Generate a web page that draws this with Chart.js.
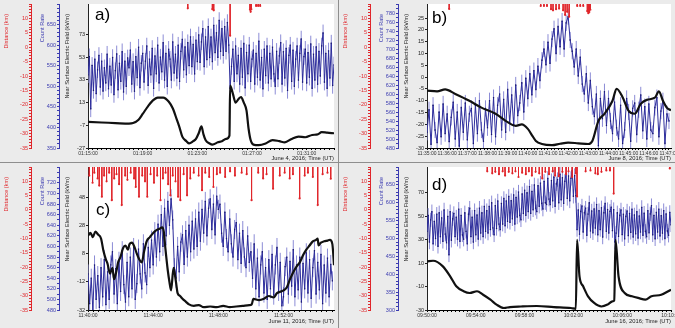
<!DOCTYPE html>
<html>
<head>
<meta charset="utf-8">
<script src="https://cdn.jsdelivr.net/npm/chart.js@4.4.0/dist/chart.umd.min.js"></script>
<style>
  html, body { margin: 0; padding: 0; background: #8e8e8e; }
  #wrap { position: relative; width: 675px; height: 328px; background: #8e8e8e; overflow: hidden; }
  .panel { position: absolute; background: #ebebeb; }
  .panel canvas { position: absolute; left: 0; top: 0; }
  .tag { position: absolute; font-family: "Liberation Sans", Arial, sans-serif; font-size: 17px; line-height: 1; color: #000; }
</style>
</head>
<body>
<div id="wrap">
  <div class="panel" style="left:0;top:0;width:338px;height:162px">
    <canvas id="ca" width="338" height="162"></canvas><div class="tag" style="left:95px;top:6px">a)</div>
  </div>
  <div class="panel" style="left:339px;top:0;width:336px;height:162px">
    <canvas id="cb" width="336" height="162"></canvas><div class="tag" style="left:93px;top:9px">b)</div>
  </div>
  <div class="panel" style="left:0;top:163px;width:338px;height:165px">
    <canvas id="cc" width="338" height="165"></canvas><div class="tag" style="left:96px;top:38px">c)</div>
  </div>
  <div class="panel" style="left:339px;top:163px;width:336px;height:165px">
    <canvas id="cd" width="336" height="165"></canvas><div class="tag" style="left:93px;top:13px">d)</div>
  </div>
</div>
<script>
const FONT = '"Liberation Sans", Arial, sans-serif';
const RED = '#e0262b';
const BLUE = '#2e2e9c';
const BLUE_ERR = '#8c8cd6';
const NAVY = '#1b1b6e';

// shared distance axis labels (km)
const distLabels = [10, 5, 0, -5, -10, -15, -20, -25, -30, -35];

// ---- a) June 4, 2016 ---- count rate every 6 s (one row = 1 min)
const timeLabelsA = ['01:15:00', '01:19:00', '01:23:00', '01:27:00', '01:31:00'];
const countLabelsA = [350, 400, 450, 500, 550, 600, 650];
const fieldLabelsA = [-27, -7, 13, 33, 53, 73];
const countA = [
  528, 572, 445, 551, 490, 566, 482, 540, 575, 498,
  561, 488, 545, 508, 578, 494, 549, 503, 570, 480,
  538, 579, 491, 556, 512, 584, 486, 561, 500, 569,
  545, 588, 505, 560, 488, 572, 521, 595, 497, 556,
  580, 510, 561, 598, 502, 566, 528, 592, 495, 574,
  530, 600, 508, 571, 535, 606, 515, 580, 500, 590,
  566, 515, 608, 532, 578, 520, 600, 512, 585, 614,
  540, 596, 528, 606, 550, 620, 548, 602, 530, 612,
  560, 625, 558, 608, 640, 548, 620, 565, 645, 570,
  620, 560, 648, 582, 630, 570, 660, 585, 640, 575,
  645, 585, 655, 600, 495, 548, 590, 512, 598, 530,
  575, 505, 592, 522, 604, 496, 582, 530, 600, 512,
  566, 588, 505, 580, 522, 610, 515, 570, 494, 590,
  526, 598, 508, 580, 518, 595, 530, 500, 585, 518,
  574, 606, 505, 584, 520, 592, 490, 575, 600, 512,
  588, 500, 566, 598, 515, 580, 615, 510, 572, 590,
  508, 582, 522, 603, 495, 578, 515, 596, 505, 585,
  525, 598, 630, 510, 580, 495, 586, 520, 605, 502,
  552
];
const fieldTimesA = [0, 1, 2, 3, 3.3, 3.7, 4.0, 4.4, 4.75, 5.1, 5.5, 5.9, 6.2, 6.5, 6.7, 6.9, 7.2, 7.4, 7.7,
  7.9, 8.1, 8.3, 8.45, 8.6, 8.9, 9.1, 9.5, 9.8, 10.1, 10.35, 10.4, 10.6, 10.8, 11.0, 11.2, 11.4, 11.6,
  11.75, 11.9, 12.1, 12.5, 13, 13.5, 14, 14.4, 14.9, 15.4, 15.9, 16.4, 16.8, 17.1, 17.5, 18];
const fieldA = [-4, -4.5, -5, -5.5, -5, -2, 3, 10, 15, 17.5, 17.5, 14, 8, -2, -9, -17, -21, -23, -21,
  -19, -14, -8, -15, -20, -23, -24, -22, -21, -19, -16, 28, 21, 13, 16, 18, 13, 6,
  -10, -20, -24, -24.5, -23, -20, -21, -22, -19, -17, -17.5, -15.5, -15, -13, -13.5, -14];
const strikeTimesA = [7.3, 9.1, 9.2, 10.4, 11.85, 11.9, 11.95, 12.3, 12.45, 12.6];
const strikeDistA = [13.5, 13.2, 12.8, 4, 13, 12.3, 13.2, 14.3, 14.3, 14.3];

// ---- b) June 8, 2016 ----
const timeLabelsB = ['11:35:00', '11:36:00', '11:37:00', '11:38:00', '11:39:00', '11:40:00', '11:41:00',
  '11:42:00', '11:43:00', '11:44:00', '11:45:00', '11:46:00', '11:47:00'];
const countLabelsB = [480, 500, 520, 540, 560, 580, 600, 620, 640, 660, 680, 700, 720, 740, 760, 780];
const fieldLabelsB = [-30, -25, -20, -15, -10, -5, 0, 5, 10, 15, 20, 25];
const countB = [
  515, 565, 488, 575, 520, 492, 560, 505, 578, 512,
  556, 494, 548, 582, 500, 560, 484, 570, 515, 580,
  498, 556, 568, 490, 575, 512, 585, 520, 495, 568,
  525, 585, 510, 592, 505, 575, 600, 520, 588, 515,
  610, 535, 598, 530, 620, 552, 580, 625, 560, 635,
  590, 645, 598, 652, 610, 662, 630, 675, 700, 665,
  715, 668, 722, 745, 690, 750, 705, 762, 700, 758,
  772, 720, 695, 660, 700, 640, 682, 622, 600, 645,
  580, 630, 572, 550, 600, 485, 590, 545, 605, 530,
  590, 540, 512, 582, 525, 500, 575, 490, 520, 590,
  560, 495, 568, 580, 510, 565, 598, 518, 572, 500,
  578, 520, 512, 570, 592, 505, 562, 585, 490, 556,
  540
];
const fieldTimesB = [0, 0.5, 0.9, 1.4, 2.1, 2.7, 3.4, 3.9, 4.4, 4.7, 5.0, 5.2, 5.4, 5.7, 6.2, 6.6, 7.0, 7.5,
  8.0, 8.2, 8.5, 8.8, 9.2, 9.4, 9.7, 10.0, 10.3, 10.6, 10.9, 11.3, 11.5, 11.7, 11.9, 12.1];
const fieldB = [-5.7, -6, -5.2, -7.1, -10, -12.9, -15.5, -18.5, -20.6, -20, -21.9, -24.5, -27, -28.3, -28.8,
  -28.2, -27.7, -28, -28.3, -27, -18.5, -15.5, -10, -4.9, -8.5, -14.3, -15.5, -11.3, -9.6, -8.7, -6, -10, -13, -14];
const strikeTimesB = [1.1, 5.64, 5.8, 5.95, 6.15, 6.25, 6.4, 6.55, 6.75, 6.85, 6.95, 7.05, 7.45, 7.6, 7.75, 7.95, 8.0, 8.05, 8.1];
const strikeDistB = [13.3, 14.3, 14.3, 14.3, 13.2, 12.8, 13.2, 13.4, 12.8, 11.2, 12.3, 10.6, 14.3, 14.3, 14.3, 12.5, 11.8, 12.2, 13];

// ---- c) June 11, 2016 ----
const timeLabelsC = ['11:40:00', '11:44:00', '11:48:00', '11:52:00'];
const countLabelsC = [480, 500, 520, 540, 560, 580, 600, 620, 640, 660, 680, 700, 720];
const fieldLabelsC = [-32, -12, 8, 28, 48];
const countC = [
  548, 492, 540, 478, 565, 500, 545, 485, 560, 505,
  575, 490, 552, 500, 565, 590, 510, 558, 492, 572,
  515, 592, 528, 495, 570, 505, 580, 520, 598, 500,
  530, 595, 548, 520, 605, 550, 528, 598, 560, 612,
  565, 628, 580, 642, 590, 660, 600, 672, 620, 685,
  640, 690, 650, 560, 540, 600, 552, 608, 622, 566,
  630, 580, 640, 590, 648, 595, 652, 600, 665, 610,
  670, 625, 685, 620, 672, 690, 632, 680, 622, 695,
  670, 680, 625, 600, 665, 615, 590, 652, 605, 580,
  632, 645, 575, 625, 568, 630, 580, 560, 620, 570,
  590, 540, 605, 520, 578, 505, 565, 590, 512, 560,
  500, 575, 520, 585, 508, 565, 598, 515, 570, 488,
  505, 562, 580, 510, 572, 525, 594, 505, 565, 518,
  580, 495, 568, 520, 588, 512, 575, 502, 560, 592,
  510, 570, 518, 585, 492, 565, 512, 578, 505, 566,
  535
];
const fieldTimesC = [0, 0.15, 0.3, 0.45, 0.6, 0.8, 0.95, 1.1, 1.2, 1.35, 1.5, 1.6, 1.75, 1.85, 2.0, 2.15, 2.3,
  2.45, 2.55, 2.7, 2.85, 3.0, 3.15, 3.3, 3.45, 3.6, 3.8, 4.0, 4.2, 4.4, 4.55, 4.65, 4.75, 4.9, 5.0, 5.1,
  5.25, 5.4, 5.5, 5.65, 5.8, 6.0, 6.2, 6.5, 6.8, 7.1, 7.5, 7.9, 8.3, 8.7, 9.1, 9.5, 9.9, 10.05, 10.15,
  10.5, 10.8, 11.1, 11.4, 11.6, 11.8, 12.0, 12.2, 12.4, 12.6, 12.8, 13.0, 13.2, 13.4, 13.6, 13.8, 14.0,
  14.1, 14.15, 14.3, 14.5, 14.7, 14.85, 15.0, 15.1];
const fieldC = [21, 23, 20, 24, 22, 19, 10, 4, 1, -6, -2, -10, -4, 2, 6, 12, 14,
  11, 15, 16, 13, 8, 4, 2, 10, 17, 20, 23, 25, 26, 27, 24, 12, -4, -12, -18,
  -2, -12, -20, -22, -24, -26, -28, -29, -28.5, -30, -29.5, -30, -29, -30, -29.5, -29, -28.5, -28, -24,
  -25, -24, -22, -23, -20, -19, -18, -16, -10, -5, -1, 2, 7, 11, 14, 17, 18,
  19, 14, 16, 17, 17.5, 18, 15, 0];
const strikeTimesC = [0.08, 0.28, 0.39, 0.59, 0.69, 0.85, 0.99, 1.14, 1.3, 1.46, 1.61, 1.75, 1.91, 2.07,
  2.28, 2.42, 2.62, 2.83, 2.93, 3.13, 3.33, 3.5, 3.64, 3.84, 4.05, 4.25, 4.45, 4.6, 4.76, 4.92, 5.06,
  5.2, 5.37, 5.53, 5.67, 5.87, 6.08, 6.28, 6.49, 6.79, 7.0, 7.2, 7.44, 7.7, 7.91, 8.11, 8.42, 8.72,
  9.02, 9.43, 9.74, 10.04, 10.45, 10.75, 10.96, 11.36, 11.77, 12.07, 12.38, 12.58, 12.99, 13.3, 13.5,
  13.8, 14.1, 14.4, 14.7, 14.9];
const strikeDistC = [12, 9.5, 13, 11, 8.5, 4.6, 12, 10, 13, 3.4, 11, 12.5, 9, 1.7,
  12, 10.5, 13, 11, 8, 4.6, 12, 10, 4.6, 12.5, 9.5, 12, 3.4, 11, 13, 9, 5.1,
  12, 10, 4.6, 3.4, 12.5, 5.1, 11, 13, 12, 6.9, 13, 11.5, 8, 12.5, 13, 11.5, 13.5,
  12, 13, 12.5, 3.4, 13, 11, 12.5, 7.4, 12, 13, 11, 12.5, 4, 12, 13,
  11.5, 1.7, 12.5, 13, 10.9];

// ---- d) June 16, 2016 ----
const timeLabelsD = ['09:50:00', '09:54:00', '09:58:00', '10:02:00', '10:06:00', '10:10:00'];
const countLabelsD = [300, 350, 400, 450, 500, 550, 600, 650];
const fieldLabelsD = [-30, -10, 10, 30, 50, 70];
const countD = [
  520, 565, 490, 552, 575, 485, 548, 500, 568, 478,
  572, 505, 558, 492, 580, 512, 488, 562, 454, 575,
  495, 555, 570, 505, 560, 498, 582, 492, 565, 510,
  498, 572, 520, 485, 568, 585, 505, 560, 490, 578,
  510, 566, 498, 585, 515, 572, 505, 590, 520, 578,
  515, 590, 525, 600, 530, 510, 592, 528, 605, 540,
  525, 598, 540, 612, 535, 605, 548, 618, 545, 606,
  555, 622, 540, 615, 560, 630, 565, 552, 625, 570,
  635, 565, 628, 575, 645, 570, 632, 580, 650, 585,
  575, 648, 590, 655, 598, 582, 660, 600, 595, 668,
  610, 595, 662, 605, 672, 590, 653, 665, 600, 680,
  608, 670, 598, 660, 682, 612, 675, 605, 668, 690,
  618, 676, 620, 525, 580, 512, 576, 591, 518, 572,
  585, 509, 568, 600, 521, 577, 516, 583, 529, 595,
  510, 578, 525, 586, 504, 572, 598, 520, 581, 515,
  576, 588, 522, 581, 490, 515, 572, 506, 565, 580,
  511, 568, 499, 562, 577, 508, 570, 517, 582, 504,
  566, 513, 575, 501, 563, 518, 587, 509, 571, 520,
  505, 578, 516, 569, 592, 510, 565, 499, 573, 518,
  582, 507, 564, 515, 578, 500, 569, 521, 509, 573,
  538
];
const fieldTimesD = [0, 0.5, 1.3, 1.9, 2.4, 3.0, 3.5, 4.1, 4.6, 5.2, 5.7, 6.3, 6.8, 7.7, 9.0, 10.4, 11.8,
  12.2, 12.3, 12.5, 12.8, 13.2, 13.7, 14.3, 14.8, 15.2, 15.35, 15.45, 15.7, 16.2, 16.8, 17.3, 17.9, 18.4, 19.2, 20];
const fieldD = [11.4, 12, 7.2, -1.3, -9.8, -14, -15.5, -14, -17, -21.2, -25.4, -28.3, -27.5, -27, -26.6, -27.5, -28.3,
  -29, 29.8, -1.3, -9.8, -18.3, -24, -27, -25.4, -22.6, -22, 29.8, -1.3, -15.5, -18.3, -19.7, -21.2, -18.3, -17, -12.7];
const strikeTimesD = [4.94, 5.35, 5.6, 5.9, 6.2, 6.4, 6.7, 7.0, 7.25, 7.5, 7.8, 8.1, 8.35, 8.6, 8.9, 9.2, 9.45,
  9.7, 10.0, 10.3, 10.5, 10.8, 11.1, 11.4, 11.6, 11.9, 12.2, 12.3, 13.0, 13.4, 13.8, 14.0, 14.3, 14.7, 15.0, 15.3, 19.9];
const strikeDistD = [13.5, 12.8, 13.3, 12.5, 13.5, 12, 13.3, 12.8, 13.5, 11.5, 13, 12.5, 13.5, 12, 13.3, 12.8, 11,
  13.3, 12.5, 13.5, 12, 11.8, 13.3, 12.5, 13.5, 11.5, 12.8, 4.7, 13.5, 13.8, 12.8, 12.5, 13.3, 13.8, 13.8, 5.7, 14.5];

const panels = [
  { id: 'ca', date: 'June 4, 2016; Time (UT)', tMax: 18, major: 4, minor: 1 / 3, times: timeLabelsA,
    cMin: 350, cMax: 700, cLabels: countLabelsA, eMin: -27, eMax: 100, eLabels: fieldLabelsA,
    counts: countA, step: 0.1, err: 20, fT: fieldTimesA, f: fieldA, sT: strikeTimesA, sD: strikeDistA,
    top: 4, right: 2, xh: 14, xpad: 0 },
  { id: 'cb', date: 'June 8, 2016; Time (UT)', tMax: 12.1, major: 1, minor: 1 / 6, times: timeLabelsB,
    cMin: 480, cMax: 800, cLabels: countLabelsB, eMin: -30, eMax: 31, eLabels: fieldLabelsB,
    counts: countB, step: 0.1, err: 18, fT: fieldTimesB, f: fieldB, sT: strikeTimesB, sD: strikeDistB,
    top: 4, right: 3, xh: 14, xpad: 0 },
  { id: 'cc', date: 'June 11, 2016; Time (UT)', tMax: 15.1, major: 4, minor: 1 / 3, times: timeLabelsC,
    cMin: 480, cMax: 750, cLabels: countLabelsC, eMin: -32, eMax: 70, eLabels: fieldLabelsC,
    counts: countC, step: 0.1, err: 18, fT: fieldTimesC, f: fieldC, sT: strikeTimesC, sD: strikeDistC,
    top: 3, right: 3, xh: 18, xpad: 3 },
  { id: 'cd', date: 'June 16, 2016; Time (UT)', tMax: 20, major: 4, minor: 1 / 3, times: timeLabelsD,
    cMin: 300, cMax: 700, cLabels: countLabelsD, eMin: -30, eMax: 92, eLabels: fieldLabelsD,
    counts: countD, step: 0.1, err: 20, fT: fieldTimesD, f: fieldD, sT: strikeTimesD, sD: strikeDistD,
    top: 3, right: 3, xh: 18, xpad: 3 }
];

function steps(lo, hi, step) {
  const out = [];
  for (let k = 0; lo + k * step <= hi + 1e-6; k++) out.push(Math.round((lo + k * step) * 10000) / 10000);
  return out;
}
function labelFor(list, v) {
  const hit = list.find(l => Math.abs(l - v) < 1e-6);
  return hit === undefined ? '' : String(hit);
}

// white plotting area on the grey panel
const whiteArea = {
  id: 'whiteArea',
  beforeDraw(chart) {
    const { ctx, chartArea: a } = chart;
    ctx.save();
    ctx.fillStyle = '#fff';
    ctx.fillRect(a.left, a.top, a.right - a.left, a.bottom - a.top);
    ctx.restore();
  }
};

// rotated axis titles, hung a little below the top of the plot like the original
const axisTitles = {
  id: 'axisTitles',
  afterDraw(chart) {
    const { ctx, chartArea } = chart;
    [['yD', 'Distance (km)', RED, 6],
     ['yC', 'Count Rate', '#3b3bb0', 11],
     ['yE', 'Near Surface Electric Field (kV/m)', '#222', 8]].forEach(([id, text, color, dx]) => {
      const s = chart.scales[id];
      ctx.save();
      ctx.translate(s.left + dx, chartArea.top + 10);
      ctx.rotate(-Math.PI / 2);
      ctx.textAlign = 'right';
      ctx.textBaseline = 'middle';
      ctx.font = '5.6px ' + FONT;
      ctx.fillStyle = color;
      ctx.fillText(text, 0, 0);
      ctx.restore();
    });
  }
};

function sideAxis(o) {
  return {
    position: 'left', weight: o.weight, min: o.min, max: o.max,
    afterBuildTicks: s => { s.ticks = o.ticks.map(v => ({ value: v })); },
    afterFit: s => { s.width = o.width; s.paddingTop = 0; s.paddingBottom = 0; },
    ticks: { autoSkip: false, padding: 1, color: o.color, font: { size: 5.5, family: FONT },
      callback: v => labelFor(o.labels, v) },
    grid: { drawOnChartArea: false, color: o.color, tickLength: 2 },
    border: { color: o.color, width: 1 },
    title: { display: false }
  };
}

function build(p) {
  const stems = [];
  p.sT.forEach((t, i) => { stems.push({ x: t, y: 15 }, { x: t, y: p.sD[i] }, { x: t, y: null }); });
  const counts = p.counts.map((v, i) => ({ x: i * p.step, y: v }));
  const errs = [];
  p.counts.forEach((v, i) => {
    errs.push({ x: i * p.step, y: v - p.err }, { x: i * p.step, y: v + p.err }, { x: i * p.step, y: null });
  });
  const field = p.fT.map((t, i) => ({ x: t, y: p.f[i] }));
  const majors = p.times.map((_, i) => i * p.major);

  new Chart(document.getElementById(p.id), {
    type: 'line',
    data: {
      datasets: [
        { label: 'Distance', yAxisID: 'yD', data: stems, borderColor: RED, borderWidth: 1,
          pointRadius: c => (c.dataIndex % 3 === 1 ? 1.1 : 0), pointBackgroundColor: RED, pointBorderWidth: 0 },
        { label: 'Field', yAxisID: 'yE', data: field, borderColor: '#111', borderWidth: 2.2,
          pointRadius: 0, cubicInterpolationMode: 'monotone' },
        { label: 'Count Rate', yAxisID: 'yC', data: counts, borderColor: BLUE, borderWidth: 1,
          pointRadius: 0.9, pointStyle: 'rect', pointBackgroundColor: NAVY, pointBorderWidth: 0 },
        { label: 'Error', yAxisID: 'yC', data: errs, borderColor: BLUE_ERR, borderWidth: 1, pointRadius: 0 }
      ]
    },
    options: {
      responsive: false,
      animation: false,
      events: [],
      layout: { padding: { top: p.top, right: p.right, left: 0, bottom: 0 } },
      plugins: { legend: { display: false }, tooltip: { enabled: false } },
      scales: {
        x: {
          type: 'linear', min: 0, max: p.tMax,
          afterBuildTicks: s => { s.ticks = steps(0, p.tMax, p.minor).map(v => ({ value: v })); },
          afterFit: s => { s.height = p.xh; s.paddingLeft = 0; s.paddingRight = 0; },
          ticks: { autoSkip: false, maxRotation: 0, minRotation: 0, padding: 1, color: '#333',
            font: { size: 5, family: FONT },
            callback: v => { const i = majors.findIndex(m => Math.abs(m - v) < 1e-6); return i < 0 ? '' : p.times[i]; } },
          grid: { drawOnChartArea: false, color: '#000', tickLength: 2 },
          border: { color: '#000' },
          title: { display: true, text: p.date, align: 'end', color: '#222',
            font: { size: 5.8, family: FONT }, padding: { top: 0, bottom: p.xpad } }
        },
        yD: sideAxis({ weight: 3, min: -35, max: 15, ticks: steps(-35, 15, 1), labels: distLabels,
          width: 31, color: RED }),
        yC: sideAxis({ weight: 2, min: p.cMin, max: p.cMax, ticks: steps(p.cMin, p.cMax, 10), labels: p.cLabels,
          width: 28, color: '#3b3bb0' }),
        yE: sideAxis({ weight: 1, min: p.eMin, max: p.eMax, ticks: p.eLabels, labels: p.eLabels,
          width: 29, color: '#222' })
      }
    },
    plugins: [whiteArea, axisTitles]
  });
}

panels.forEach(build);
</script>
</body>
</html>
